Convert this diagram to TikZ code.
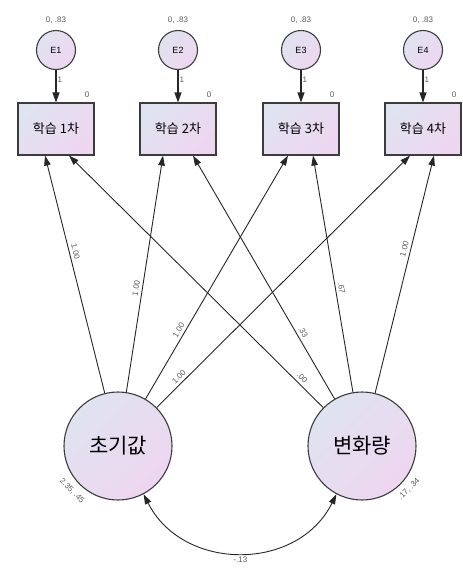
\documentclass[tikz,border=0pt]{standalone}
\usepackage{fontspec}
\setmainfont{Liberation Sans}
\newfontfamily\kr{Noto Sans CJK KR}
\usetikzlibrary{arrows.meta}
\definecolor{fillA}{RGB}{224,227,240}
\definecolor{fillB}{RGB}{238,214,240}
\definecolor{edge}{RGB}{60,60,60}
\definecolor{lbl}{RGB}{90,90,90}
\begin{document}
\begin{tikzpicture}[x=1pt,y=-1pt,
  shadefill/.style={left color=fillA, right color=fillB, shading angle=45},
  box/.style={draw=edge, line width=1.1pt, minimum width=76pt, minimum height=52pt, inner sep=0pt, shadefill, font=\kr\fontsize{13}{13}\selectfont},
  errc/.style={circle, draw=edge, line width=1.1pt, minimum size=39pt, inner sep=0pt, shadefill, font=\fontsize{9}{9}\selectfont},
  latc/.style={circle, draw=edge, line width=1.1pt, minimum size=108pt, inner sep=0pt, shadefill, font=\kr\fontsize{21}{21}\selectfont},
  small/.style={font=\fontsize{8}{8}\selectfont, text=lbl, inner sep=1pt},
  lab/.style={small, sloped, above=2pt},
  reg/.style={draw=black!85, line width=0.9pt, -{Triangle[length=10pt,width=6.5pt]}},
  errarr/.style={draw=black!85, line width=1.3pt, -{Triangle[length=10pt,width=7pt]}},
  cov/.style={draw=black!85, line width=0.9pt, {Triangle[length=10pt,width=6.5pt]}-{Triangle[length=10pt,width=6.5pt]}}
]
\useasboundingbox (0,0) rectangle (463,579);

\foreach \i/\x in {1/56,2/178,3/301,4/423} {
  \node[errc] (e\i) at (\x,50) {E\i};
  \node[small] (v\i) at (\x,20) {0, .83};
  \node[box] (b\i) at (\x,129) {학습 \i{}차};
  \node[small] (m\i) at (\x+31,95) {0};
  \draw[errarr] (e\i) -- node[small,right,pos=.3]{1} (b\i);
}

\node[latc] (ini) at (118,446) {초기값};
\node[latc] (chg) at (362,446) {변화량};

\node[small, rotate=-45] (vi) at (72,491) {2.35, .45};
\node[small, rotate=45] (vc) at (409,489) {.17, .34};

\draw[reg] (ini) -- node[lab,pos=.59]{1.00} ([xshift=-11pt]b1.south);
\draw[reg] (ini) -- node[lab,pos=.435]{1.00} ([xshift=-15pt]b2.south);
\draw[reg] (ini) -- node[lab,pos=.27]{1.00} ([xshift=-13pt]b3.south);
\draw[reg] (ini) -- node[lab,pos=.105]{1.00} ([xshift=-13pt]b4.south);
\draw[reg] (chg) -- node[lab,pos=.10]{.00} ([xshift=13pt]b1.south);
\draw[reg] (chg) -- node[lab,pos=.26]{.33} ([xshift=15pt]b2.south);
\draw[reg] (chg) -- node[lab,pos=.435]{.67} ([xshift=12pt]b3.south);
\draw[reg] (chg) -- node[lab,pos=.60]{1.00} ([xshift=11pt]b4.south);

\draw[cov] (ini.-62) .. controls (183,572) and (298,572) .. node[small, below=3pt, midway]{-.13} (chg.-118);
\end{tikzpicture}
\end{document}
